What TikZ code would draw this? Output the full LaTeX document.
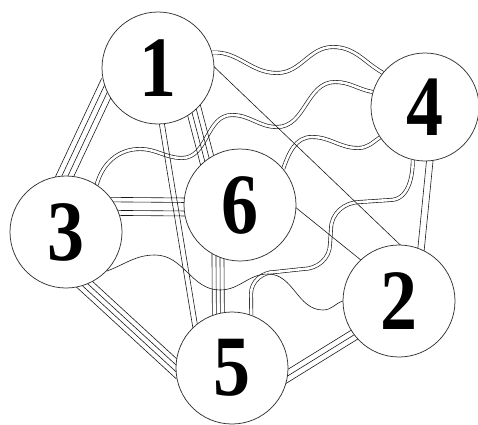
\documentclass[tikz,border=0pt]{standalone}
\usepackage{fontspec}
\usepackage{graphicx}
\setmainfont{Liberation Serif}
\usetikzlibrary{calc,backgrounds}
\newcommand\plines[3]{%
  \foreach \o in {#1} {\draw[ln] ($(#2)!\o pt!90:(#3)$) -- ($(#3)!\o pt!-90:(#2)$);}}
\newcommand\dg[1]{\scalebox{0.86}[1]{#1}}
\begin{document}
\begin{tikzpicture}[x=1pt,y=1pt,
  nd/.style={circle, draw=black!80, line width=0.75pt, fill=white, minimum size=112pt, inner sep=0pt,
    font=\bfseries\fontsize{86}{86}\selectfont},
  ln/.style={draw=black!90, line width=0.6pt, shorten <=-8pt, shorten >=-8pt},
  wv/.style={draw=black!90, line width=0.65pt, double=white, double distance=2.6pt},
  sw/.style={draw=black!90, line width=0.6pt}]
\useasboundingbox (0,0) rectangle (478,424);
\node[nd] (n1) at (158,356) {\dg{1}};
\node[nd, minimum size=108pt] (n4) at (425,317) {\dg{4}};
\node[nd] (n3) at (66,192) {\dg{3}};
\node[nd] (n6) at (240,219) {\dg{6}};
\node[nd] (n2) at (399,123) {\dg{2}};
\node[nd] (n5) at (232,56) {\dg{5}};
\begin{pgfonlayer}{background}
  % wavy double connectors
  \draw[wv] (n1.16) to[out=3,in=180] (277,351) to[out=0,in=180] (333,377) to[out=0,in=150] (n4.141);
  \draw[wv] (n3.57) to[out=75,in=180] (140,275) to[out=0,in=180] (182,266) to[out=0,in=180] (232,309)
     to[out=0,in=180] (277,297) to[out=0,in=180] (335,342) to[out=0,in=170] (n4.164);
  \draw[wv] (n6.40) to[out=70,in=180] (312,287) to[out=0,in=180] (358,276) to[out=0,in=215] (n4.214);
  \draw[wv] (n4.257) to[out=-90,in=0] (390,224) -- (360,222) to[out=180,in=90] (331,195) -- (330,180)
     to[out=-90,in=0] (303,155) -- (275,152) to[out=180,in=90] (251,130) -- (n5.70);
  % wavy single
  \draw[sw] (n3.-44) to[out=20,in=180] (155,169) to[out=0,in=180] (220,134) to[out=0,in=180] (268,150)
     to[out=0,in=180] (323,114) to[out=0,in=200] (n2.180);
  % straight connectors
  \plines{-8.25,-2.75,2.75,8.25}{n1.202}{n3.91}
  \plines{-7.5,-2.5,2.5,7.5}{n1.-50}{n6.126}
  \plines{-2.5,2.5}{n1.-86}{n5.131}
  \plines{0}{n1.1}{n2.89}
  \plines{9,4.5,-4,-9}{n3.27}{n6.182}
  \plines{-7.5,-2.5,2.5,7.5}{n3.-70}{n5.180}
  \plines{-6,-2,2,6}{n6.-113}{n5.104}
  \plines{0}{n6.-3}{n2.133}
  \plines{-5.5,0,5.5}{n5.-8}{n2.-143}
  \plines{-3.25,3.25}{n4.-85}{n2.67}
\end{pgfonlayer}
\end{tikzpicture}
\end{document}
